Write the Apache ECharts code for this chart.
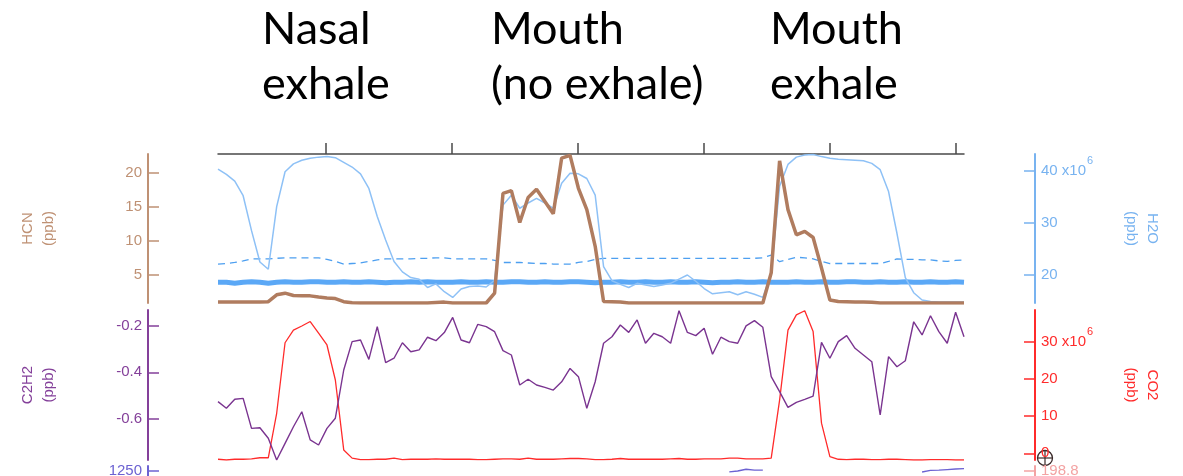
<!DOCTYPE html>
<html><head><meta charset="utf-8">
<script src="https://cdn.jsdelivr.net/npm/echarts@6/dist/echarts.min.js"></script>
<style>html,body{margin:0;padding:0;background:#fff}#c{width:1183px;height:476px}</style>
</head><body><div id="c"></div>
<script>
// ---- data (sample index on x) ----
const headings = ['Nasal\nexhale', 'Mouth\n(no exhale)', 'Mouth\nexhale'];
const xTicks = [12.8, 27.85, 42.9, 57.95, 73.0, 88.05];
const hcnTicks = [5, 10, 15, 20];
const h2oTicks = [20, 30, 40];
const c2h2Ticks = [-0.6, -0.4, -0.2];
const co2Ticks = [0, 10, 20, 30];
const p3LeftTicks = [1250];
const p3RightTicks = [198.8];

const hcn = [
  1.0, 1.0, 1.0, 1.0, 1.0, 1.0, 1.05, 2.06, 2.3, 1.95,
  1.9, 1.9, 1.72, 1.6, 1.5, 1.05, 0.88, 0.85, 0.85, 0.85,
  0.85, 0.85, 0.85, 0.85, 0.85, 0.85, 0.92, 0.98, 0.85, 0.85,
  0.85, 0.85, 0.85, 2.3, 17.0, 17.4, 12.7, 16.4, 17.6, 15.8,
  14.0, 22.2, 22.6, 17.75, 14.6, 9.2, 1.07, 1.05, 1.0, 0.85,
  0.85, 0.85, 0.85, 0.85, 0.85, 0.85, 0.85, 0.85, 0.85, 0.85,
  0.85, 0.85, 0.85, 0.85, 0.85, 0.85, 5.3, 21.8, 14.6, 10.9,
  11.4, 10.5, 6.0, 1.3, 1.07, 1.05, 1.0, 1.0, 0.95, 0.85,
  0.85, 0.85, 0.85, 0.85, 0.85, 0.85, 0.85, 0.85, 0.85, 0.85
];
// H2O in units of 10^6 ppb
const h2o = [
  40.3, 39.3, 38.0, 35.2, 28.5, 22.5, 21.1, 33.1, 39.8, 41.3,
  42.0, 42.4, 42.6, 42.7, 42.5, 41.6, 40.7, 39.4, 36.6, 31.2,
  26.7, 22.6, 20.6, 19.5, 19.2, 17.6, 18.3, 16.8, 15.7, 17.3,
  17.8, 17.9, 17.7, 19.0, 33.4, 35.3, 32.8, 33.8, 34.7, 33.8,
  32.8, 37.6, 39.5, 39.4, 38.5, 35.3, 21.6, 18.9, 18.2, 17.6,
  18.4, 18.1, 17.8, 18.1, 18.4, 19.2, 20.0, 18.8, 17.4, 16.4,
  16.6, 16.8, 16.2, 16.8, 16.3, 15.7, 20.3, 37.0, 41.2, 42.6,
  43.0, 43.1, 42.7, 42.4, 42.2, 42.1, 42.0, 41.9, 41.4, 40.2,
  36.0, 28.0, 19.5, 16.6, 15.2, 14.9, 14.8, 14.8, 14.8, 14.8
];
const h2oDashed = [
  22.1, 22.2, 22.4, 22.7, 23.1, 23.1, 23.1, 23.2, 23.3, 23.3,
  23.3, 23.3, 23.3, 23.0, 22.6, 22.1, 22.2, 22.3, 22.6, 22.9,
  23.1, 23.1, 23.1, 23.1, 23.2, 23.2, 23.3, 23.3, 23.1, 23.1,
  23.1, 23.1, 23.1, 22.8, 22.4, 22.4, 22.4, 22.3, 22.2, 22.2,
  22.1, 22.1, 22.1, 22.4, 22.6, 23.0, 23.2, 23.2, 23.2, 23.2,
  23.2, 23.2, 23.2, 23.2, 23.2, 23.2, 23.2, 23.2, 23.2, 23.2,
  23.2, 23.2, 23.2, 23.2, 23.2, 23.3, 23.8, 22.55, 23.0, 23.4,
  23.3, 23.1, 22.6, 22.2, 22.2, 22.2, 22.2, 22.2, 22.2, 22.2,
  22.6, 23.1, 23.0, 23.0, 22.9, 22.9, 22.7, 22.6, 22.8, 22.9
];
const h2oThick = [
  18.6, 18.6, 18.4, 18.6, 18.7, 18.6, 18.4, 18.6, 18.7, 18.6,
  18.6, 18.7, 18.7, 18.6, 18.6, 18.7, 18.6, 18.6, 18.7, 18.6,
  18.5, 18.6, 18.6, 18.7, 18.6, 18.7, 18.6, 18.6, 18.6, 18.7,
  18.6, 18.6, 18.7, 18.6, 18.6, 18.7, 18.7, 18.6, 18.6, 18.7,
  18.6, 18.6, 18.7, 18.7, 18.6, 18.5, 18.6, 18.6, 18.7, 18.6,
  18.6, 18.7, 18.6, 18.6, 18.7, 18.6, 18.6, 18.7, 18.6, 18.5,
  18.6, 18.6, 18.7, 18.6, 18.6, 18.7, 18.6, 18.6, 18.6, 18.7,
  18.6, 18.6, 18.7, 18.6, 18.6, 18.7, 18.7, 18.6, 18.6, 18.7,
  18.6, 18.6, 18.7, 18.6, 18.6, 18.7, 18.6, 18.6, 18.7, 18.6
];
const c2h2 = [
  -0.527, -0.556, -0.517, -0.513, -0.643, -0.640, -0.686, -0.780, -0.708, -0.636,
  -0.571, -0.693, -0.715, -0.643, -0.599, -0.390, -0.267, -0.260, -0.344, -0.202,
  -0.358, -0.339, -0.272, -0.311, -0.303, -0.248, -0.263, -0.228, -0.162, -0.260,
  -0.272, -0.192, -0.202, -0.224, -0.306, -0.325, -0.455, -0.430, -0.455, -0.465,
  -0.477, -0.441, -0.383, -0.419, -0.556, -0.441, -0.274, -0.246, -0.195, -0.227,
  -0.173, -0.274, -0.231, -0.246, -0.274, -0.133, -0.227, -0.241, -0.209, -0.322,
  -0.248, -0.267, -0.274, -0.199, -0.176, -0.205, -0.419, -0.484, -0.552, -0.530,
  -0.517, -0.503, -0.270, -0.339, -0.267, -0.241, -0.296, -0.325, -0.354, -0.585,
  -0.332, -0.376, -0.350, -0.181, -0.238, -0.155, -0.224, -0.274, -0.140, -0.246
];
// CO2 in units of 10^6 ppb
const co2 = [
  -1.6, -1.8, -1.6, -1.6, -1.5, -1.2, -1.2, 10.75, 29.7, 33.1,
  34.2, 35.4, 32.3, 29.1, 19.7, 0.9, -1.3, -1.7, -1.7, -1.6,
  -1.6, -1.3, -1.7, -1.6, -1.6, -1.6, -1.5, -1.6, -1.6, -1.6,
  -1.6, -1.7, -1.7, -1.6, -1.5, -1.5, -1.6, -1.3, -1.6, -1.6,
  -1.6, -1.5, -1.4, -1.4, -1.5, -1.7, -1.7, -1.6, -1.4, -1.6,
  -1.6, -1.6, -1.6, -1.6, -1.5, -1.4, -1.6, -1.6, -1.5, -1.5,
  -1.5, -1.3, -1.3, -1.5, -1.5, -1.5, -1.3, 14.3, 33.1, 37.2,
  38.3, 32.7, 8.1, -0.9, -1.6, -1.7, -1.6, -1.6, -1.7, -1.7,
  -1.6, -1.6, -1.7, -1.8, -1.8, -1.7, -1.7, -1.7, -1.8, -1.8
];
// third (cut-off) panel: only the visible pieces
const panel3 = [
  null, null, null, null, null, null, null, null, null, null,
  null, null, null, null, null, null, null, null, null, null,
  null, null, null, null, null, null, null, null, null, null,
  null, null, null, null, null, null, null, null, null, null,
  null, null, null, null, null, null, null, null, null, null,
  null, null, null, null, null, null, null, null, null, null,
  null, 1248, 1249.5, 1252.5, 1251, 1251, null, null, null, null,
  null, null, null, null, null, null, null, null, null, null,
  null, null, null, null, 1247.8, 1250.4, 1251, 1252, 1252.9, 1253.5
];

// ---- chart ----
const FONT = '"Liberation Sans", Arial, sans-serif';
const pairs = a => a.map((v, i) => [i, v]);
const C = {
  hcn: '#b07c5f', hcnAx: '#bf9174',
  h2o: '#8ec1f6', h2oAx: '#78b3f0', dash: '#4d9ff0', thick: '#5ba8f6',
  c2h2: '#7a3490', c2h2Ax: '#84409a',
  co2: '#ff2b2b',
  p3: '#6c62d2', p3r: '#f3a3a3'
};

function yAx(o) {
  const sup = o.sup;
  return {
    gridIndex: o.grid, type: 'value', position: o.pos, offset: o.pos === 'left' ? 70 : 71,
    min: o.min, max: o.max,
    name: o.name || '', nameLocation: 'middle', nameRotate: o.pos === 'left' ? 90 : -90,
    nameGap: o.pos === 'left' ? 89 : 86,
    nameTextStyle: { color: o.color, fontSize: 15, lineHeight: 21, fontFamily: FONT },
    axisLine: { show: true, onZero: false, lineStyle: { color: o.color, width: 2 } },
    axisTick: { show: true, inside: true, length: 11, customValues: o.ticks, lineStyle: { color: o.color, width: 1.5 } },
    axisLabel: {
      show: true, customValues: o.ticks, margin: 6, color: o.color, fontSize: 15, fontFamily: FONT,
      formatter: v => (sup != null && Math.abs(v - sup) < 1e-9) ? '{n|' + v + ' x10}{s|6}' : String(v),
      rich: {
        n: { color: o.color, fontSize: 15, fontFamily: FONT },
        s: { color: o.color, fontSize: 11, lineHeight: 11, fontFamily: FONT, padding: [0, 0, 19, 1] }
      }
    },
    splitLine: { show: false }
  };
}

const chart = echarts.init(document.getElementById('c'), null, { renderer: 'canvas' });
const titleStyle = { fontFamily: 'Lato, "Open Sans", sans-serif', fontSize: 45, lineHeight: 55, color: '#000', fontWeight: 'normal' };
chart.setOption({
  animation: false,
  backgroundColor: '#fff',
  title: [
    { text: headings[0], left: 262, top: 2, padding: 0, textStyle: titleStyle },
    { text: headings[1], left: 491, top: 2, padding: 0, textStyle: titleStyle },
    { text: headings[2], left: 770, top: 2, padding: 0, textStyle: titleStyle }
  ],
  grid: [
    { left: 218, width: 746, top: 154, height: 149, outerBoundsMode: 'none', containLabel: false },
    { left: 218, width: 746, top: 310, height: 150, outerBoundsMode: 'none', containLabel: false },
    { left: 218, width: 746, top: 466, height: 150, outerBoundsMode: 'none', containLabel: false }
  ],
  xAxis: [
    { gridIndex: 0, type: 'value', min: 0, max: 89, position: 'top',
      axisLine: { show: true, onZero: false, lineStyle: { color: '#4a4a4a', width: 1.5 } },
      axisTick: { show: true, inside: false, length: 11, customValues: xTicks, lineStyle: { color: '#4a4a4a', width: 1.5 } },
      axisLabel: { show: false }, splitLine: { show: false } },
    { gridIndex: 1, type: 'value', min: 0, max: 89, show: false },
    { gridIndex: 2, type: 'value', min: 0, max: 89, show: false }
  ],
  yAxis: [
    yAx({ grid: 0, pos: 'left', min: 0.85, max: 22.8, ticks: hcnTicks, color: C.hcnAx, name: 'HCN\n(ppb)' }),
    yAx({ grid: 0, pos: 'right', min: 14.63, max: 43.2, ticks: h2oTicks, color: C.h2oAx, name: 'H2O\n(ppb)', sup: 40 }),
    yAx({ grid: 1, pos: 'left', min: -0.78, max: -0.13, ticks: c2h2Ticks, color: C.c2h2Ax, name: 'C2H2\n(ppb)' }),
    yAx({ grid: 1, pos: 'right', min: -1.8, max: 38.5, ticks: co2Ticks, color: C.co2, name: 'CO2\n(ppb)', sup: 30 }),
    yAx({ grid: 2, pos: 'left', min: 1000, max: 1258.1, ticks: p3LeftTicks, color: C.p3 }),
    yAx({ grid: 2, pos: 'right', min: 150, max: 200.4, ticks: p3RightTicks, color: C.p3r })
  ],
  series: [
    { name: 'H2O thick', type: 'line', xAxisIndex: 0, yAxisIndex: 1, data: pairs(h2oThick), symbol: 'none', lineStyle: { color: C.thick, width: 5 }, z: 2 },
    { name: 'H2O dashed', type: 'line', xAxisIndex: 0, yAxisIndex: 1, data: pairs(h2oDashed), symbol: 'none', lineStyle: { color: C.dash, width: 1.3, type: [7, 5] }, z: 3 },
    { name: 'H2O', type: 'line', xAxisIndex: 0, yAxisIndex: 1, data: pairs(h2o), symbol: 'none', lineStyle: { color: C.h2o, width: 1.5 }, z: 4 },
    { name: 'HCN', type: 'line', xAxisIndex: 0, yAxisIndex: 0, data: pairs(hcn), symbol: 'none', lineStyle: { color: C.hcn, width: 3.5 }, z: 5 },
    { name: 'CO2', type: 'line', xAxisIndex: 1, yAxisIndex: 3, data: pairs(co2), symbol: 'none', lineStyle: { color: C.co2, width: 1.3 }, z: 3 },
    { name: 'C2H2', type: 'line', xAxisIndex: 1, yAxisIndex: 2, data: pairs(c2h2), symbol: 'none', lineStyle: { color: C.c2h2, width: 1.4 }, z: 4 },
    { name: 'panel3', type: 'line', xAxisIndex: 2, yAxisIndex: 4, data: pairs(panel3), symbol: 'none', connectNulls: false, lineStyle: { color: C.p3, width: 1.3 }, z: 3 }
  ],
  graphic: [
    { type: 'group', x: 1045, y: 458, z: 100, silent: true, children: [
      { type: 'circle', shape: { cx: 0, cy: 0, r: 7.5 }, style: { fill: 'rgba(0,0,0,0)', stroke: '#3b2a2a', lineWidth: 1.3 } },
      { type: 'line', shape: { x1: -7.5, y1: 0, x2: 7.5, y2: 0 }, style: { stroke: '#3b2a2a', lineWidth: 1.2 } },
      { type: 'line', shape: { x1: 0, y1: -7.5, x2: 0, y2: 7.5 }, style: { stroke: '#3b2a2a', lineWidth: 1.2 } }
    ] }
  ]
});
</script>
</body></html>
